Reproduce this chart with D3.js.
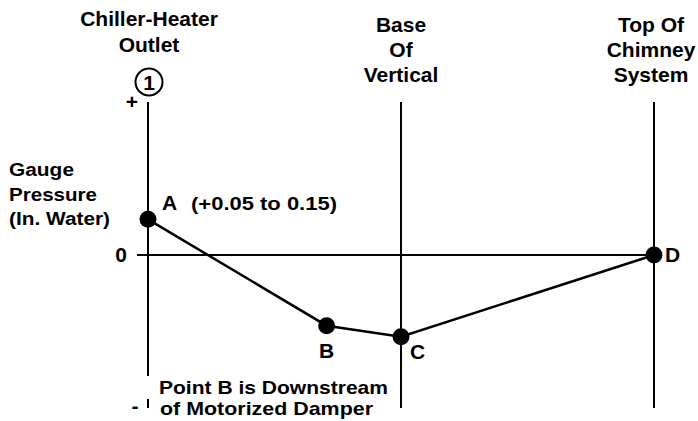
<!DOCTYPE html>
<html>
<head>
<meta charset="utf-8">
<script src="https://cdn.jsdelivr.net/npm/d3@7"></script>
<style>
  body { margin: 0; background: #fff; }
  svg text { font-family: "Liberation Sans", Arial, Helvetica, sans-serif; font-weight: bold; fill: #000; }
</style>
</head>
<body>
<div id="chart"></div>
<script>
const WIDTH = 698, HEIGHT = 421;

// stations along the flue path
const stationNames = [["Chiller-Heater", "Outlet"], ["Base", "Of", "Vertical"], ["Top Of", "Chimney", "System"]];
const stationPos = [0, 0.5, 1];

// pressure profile points
const pointLabels = ["A", "B", "C", "D"];
const pointPos = [0, 0.353, 0.5, 1];
const pointPressure = [0.233, -0.462, -0.534, 0];

// y axis
const yTickValues = [1, 0, -1];
const yTickLabels = ["+", "0", "-"];
const yTitle = ["Gauge", "Pressure", "(In. Water)"];
const yTitleWidths = [65, 88, 101];

const rangeNote = "(+0.05 to 0.15)";
const noteLines = ["Point B is Downstream", "of Motorized Damper"];
const noteWidths = [229, 213];

const svg = d3.select("#chart").append("svg")
    .attr("width", WIDTH)
    .attr("height", HEIGHT)
    .attr("viewBox", `0 0 ${WIDTH} ${HEIGHT}`);

const x = d3.scaleLinear().domain([0, 1]).range([148, 654]);
const y = d3.scaleLinear().domain([-1, 1]).range([408, 102]);

// Vertical station lines
svg.selectAll("line.station")
    .data(stationPos)
    .join("line")
    .attr("class", "station")
    .attr("x1", d => x(d)).attr("x2", d => x(d))
    .attr("y1", y(1)).attr("y2", y(-1))
    .attr("stroke", "#000")
    .attr("stroke-width", 2);

// Zero line
svg.append("line")
    .attr("x1", x(0) - 11).attr("x2", x(1))
    .attr("y1", y(0)).attr("y2", y(0))
    .attr("stroke", "#000")
    .attr("stroke-width", 2);

// Station labels
const stationBase = [26, 32, 32];
const stationDx = [1, 0, -3];
stationNames.forEach((lines, i) => {
    const t = svg.append("text")
        .attr("text-anchor", "middle")
        .style("font-size", "21px");
    lines.forEach((s, j) => {
        t.append("tspan")
            .attr("x", x(stationPos[i]) + stationDx[i])
            .attr("y", stationBase[i] + j * (i === 0 ? 26 : 25))
            .text(s);
    });
});

// Circled "1"
svg.append("circle")
    .attr("cx", x(0) + 1).attr("cy", 82).attr("r", 13.5)
    .attr("fill", "none").attr("stroke", "#000").attr("stroke-width", 2);
svg.append("text")
    .attr("x", x(0) + 1).attr("y", 89.5)
    .attr("text-anchor", "middle")
    .style("font-size", "21px")
    .text("1");

// Y tick labels
const tickDx = [-16, -21, -13];
const tickDy = [7, 7, 5];
svg.selectAll("text.ytick")
    .data(yTickValues)
    .join("text")
    .attr("class", "ytick")
    .attr("x", (d, i) => x(0) + tickDx[i])
    .attr("y", (d, i) => y(d) + tickDy[i])
    .attr("text-anchor", (d, i) => i === 1 ? "end" : "middle")
    .style("font-size", "21px")
    .text((d, i) => yTickLabels[i]);

// Y title
yTitle.forEach((s, i) => {
    svg.append("text")
        .attr("x", 9)
        .attr("y", 176 + i * 24.5)
        .attr("textLength", yTitleWidths[i])
        .attr("lengthAdjust", "spacingAndGlyphs")
        .style("font-size", "18px")
        .text(s);
});

// Profile line
const line = d3.line()
    .x(d => x(d[0]))
    .y(d => y(d[1]));
svg.append("path")
    .datum(pointPos.map((p, i) => [p, pointPressure[i]]))
    .attr("d", line)
    .attr("fill", "none")
    .attr("stroke", "#000")
    .attr("stroke-width", 2.5);

// Points
svg.selectAll("circle.pt")
    .data(pointPos)
    .join("circle")
    .attr("class", "pt")
    .attr("cx", d => x(d))
    .attr("cy", (d, i) => y(pointPressure[i]))
    .attr("r", 8.5)
    .attr("fill", "#000");

// Point labels
const lblDx = [14, 0, 9, 11];
const lblDy = [-9, 32, 22, 7];
const lblAnchor = ["start", "middle", "start", "start"];
svg.selectAll("text.pt-label")
    .data(pointLabels)
    .join("text")
    .attr("class", "pt-label")
    .attr("x", (d, i) => x(pointPos[i]) + lblDx[i])
    .attr("y", (d, i) => y(pointPressure[i]) + lblDy[i])
    .attr("text-anchor", (d, i) => lblAnchor[i])
    .style("font-size", "21px")
    .text(d => d);

svg.append("text")
    .attr("x", 191)
    .attr("y", 210)
    .attr("textLength", 146)
    .attr("lengthAdjust", "spacingAndGlyphs")
    .style("font-size", "19px")
    .text(rangeNote);

// Note with white backing (breaks the left axis line)
svg.append("rect")
    .attr("x", 143).attr("y", 376)
    .attr("width", 250).attr("height", 23)
    .attr("fill", "#fff");
noteLines.forEach((s, i) => {
    svg.append("text")
        .attr("x", 159 + i)
        .attr("y", 394 + i * 21)
        .attr("textLength", noteWidths[i])
        .attr("lengthAdjust", "spacingAndGlyphs")
        .style("font-size", "19px")
        .text(s);
});
</script>
</body>
</html>
